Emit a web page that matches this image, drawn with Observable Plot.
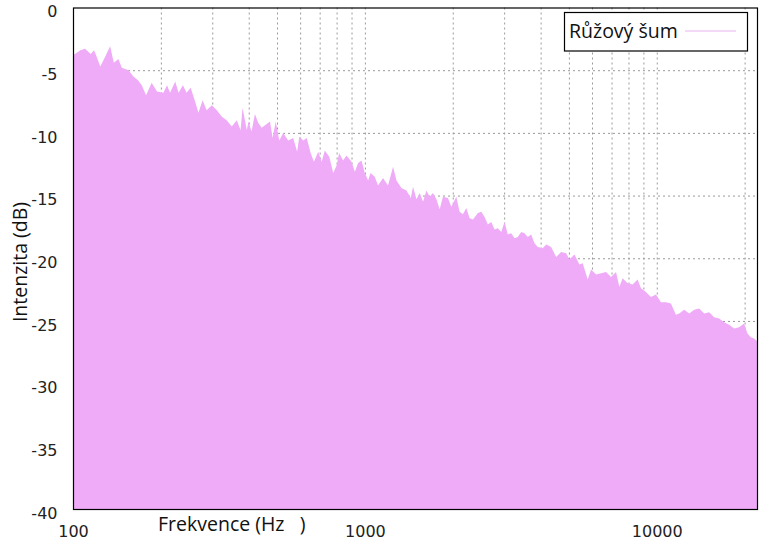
<!DOCTYPE html>
<html>
<head>
<meta charset="utf-8">
<script src="https://cdn.jsdelivr.net/npm/d3@7"></script>
<script src="https://cdn.jsdelivr.net/npm/@observablehq/plot@0.6"></script>
<style>
  html, body { margin: 0; padding: 0; background: white; }
  #chart { position: relative; width: 760px; height: 542px; }
</style>
</head>
<body>
<div id="chart"></div>
<script>
// Frequencies (Hz) and intensities (dB)
const freqs = [100,106,110,115,118,120,124,129,134,138,143,147,155,161,167,172,178,186,194,204,210,215,224,230,238,245,253,262,269,278,287,299,311,323,336,350,364,375,381,394,399,409,420,431,443,455,473,483,495,509,525,546,568,586,596,615,632,652,669,692,711,729,755,779,800,816,842,865,900,924,948,974,999,1026,1045,1081,1109,1154,1200,1249,1283,1334,1388,1436,1462,1502,1541,1582,1625,1667,1711,1758,1804,1851,1925,1978,2057,2111,2167,2226,2285,2345,2439,2505,2571,2638,2710,2781,2854,2932,3009,3088,3172,3255,3341,3432,3523,3615,3713,3811,3911,4069,4179,4347,4521,4703,4892,5021,5223,5432,5575,5800,5957,6196,6445,6703,6972,7252,7443,7639,7945,8264,8596,8829,9183,9554,9937,10336,10751,11183,11632,11938,12417,12916,13435,13974,14535,15119,15726,16358,17015,17699,18409,19149,19918,20442,21000,21552,22050];
const dbs = [-3.8,-3.4,-3.3,-3.7,-3.4,-3.8,-4.7,-3.9,-3.1,-4.4,-4.1,-4.8,-5.0,-5.5,-5.8,-6.2,-7.0,-6.0,-6.7,-6.8,-6.2,-6.8,-5.9,-6.8,-6.2,-6.8,-6.4,-7.5,-8.4,-7.4,-8.2,-7.8,-8.2,-8.7,-9.0,-9.5,-9.0,-9.8,-8.0,-9.8,-9.1,-9.9,-8.5,-9.2,-9.6,-9.4,-9.1,-10.4,-9.1,-10.6,-10.0,-10.6,-10.4,-11.5,-10.3,-10.6,-10.4,-11.6,-12.3,-11.5,-12.3,-11.4,-11.9,-13.2,-12.6,-11.6,-12.2,-11.8,-12.3,-13.1,-12.4,-12.2,-13.2,-13.8,-13.2,-13.5,-14.2,-13.6,-14.2,-12.7,-13.8,-14.4,-14.6,-15.2,-14.3,-15.3,-14.8,-15.5,-14.6,-15.1,-14.8,-15.3,-16.1,-15.1,-15.2,-15.9,-15.1,-16.3,-16.5,-16.0,-16.8,-16.9,-16.4,-16.3,-16.7,-17.3,-17.1,-17.7,-17.6,-17.9,-17.1,-18.1,-18.0,-18.4,-18.3,-17.9,-18.0,-18.3,-18.1,-18.8,-19.1,-19.2,-18.9,-19.1,-19.9,-19.5,-19.6,-20.1,-19.7,-20.5,-20.4,-21.7,-20.9,-21.3,-21.2,-21.1,-21.5,-21.1,-22.3,-21.6,-22.0,-22.1,-21.7,-22.4,-22.7,-23.1,-22.9,-23.5,-23.5,-23.6,-24.5,-24.4,-24.1,-24.4,-24.1,-24.0,-24.4,-24.3,-24.7,-24.8,-25.1,-25.3,-25.6,-25.5,-25.2,-26.0,-26.3,-26.4,-26.6];

const xTicks = [100, 1000, 10000];
const yTicks = [0, -5, -10, -15, -20, -25, -30, -35, -40];
const xGrid = [200,300,400,500,600,700,800,900,1000,2000,3000,4000,5000,6000,7000,8000,9000,10000,20000];
const yGrid = [-5, -10, -15, -20, -25, -30, -35];
const seriesName = "Růžový šum";
const xTitle = "Frekvence (Hz   )";
const yTitle = "Intenzita (dB)";

const data = freqs.map((f, i) => ({f, db: dbs[i]}));
const fillColor = "#efabf7";

const chart = Plot.plot({
  width: 760,
  height: 542,
  marginLeft: 73,
  marginRight: 3,
  marginTop: 7.5,
  marginBottom: 33,
  x: {type: "log", domain: [100, 22050]},
  y: {domain: [-40, 0]},
  style: {fontFamily: "DejaVu Sans", fontSize: "16px", color: "#222", background: "white"},
  marks: [
    Plot.ruleX(xGrid, {stroke: "#9a9a9a", strokeDasharray: "2,3", strokeWidth: 1}),
    Plot.ruleY(yGrid, {stroke: "#9a9a9a", strokeDasharray: "2,3", strokeWidth: 1}),
    Plot.areaY(data, {x: "f", y1: -40, y2: "db", fill: fillColor}),
    Plot.frame({stroke: "black", strokeWidth: 1.2}),
    Plot.axisX(xTicks, {tickSize: 0, tickPadding: 16, tickFormat: d => String(d), label: null, fontSize: 16}),
    Plot.axisY(yTicks, {tickSize: 0, tickPadding: 16, tickFormat: d => String(d), label: null, dy: 4, fontSize: 16})
  ]
});

document.getElementById("chart").appendChild(chart);

const svg = d3.select(chart);
const titleFont = "'Open Sans'";

function styleText(sel, anchor) {
  return sel
    .attr("text-anchor", anchor)
    .style("text-anchor", anchor)
    .style("font-family", titleFont)
    .style("font-size", "19.5px")
    .style("fill", "#111");
}

styleText(svg.append("text")
  .attr("x", 158).attr("y", 531)
  .style("white-space", "pre")
  .text(xTitle), "start");

styleText(svg.append("text")
  .attr("transform", "translate(27,262) rotate(-90)")
  .text(yTitle), "middle");

const lg = svg.append("g");
lg.append("rect")
  .attr("x", 564.5).attr("y", 12.5).attr("width", 183).attr("height", 38.5)
  .attr("fill", "white").attr("stroke", "black").attr("stroke-width", 1.2);
styleText(lg.append("text")
  .attr("x", 569).attr("y", 38)
  .text(seriesName), "start");
lg.append("line")
  .attr("x1", 685).attr("x2", 736).attr("y1", 31).attr("y2", 31)
  .attr("stroke", "#e6b4ef").attr("stroke-width", 1);
</script>
</body>
</html>
